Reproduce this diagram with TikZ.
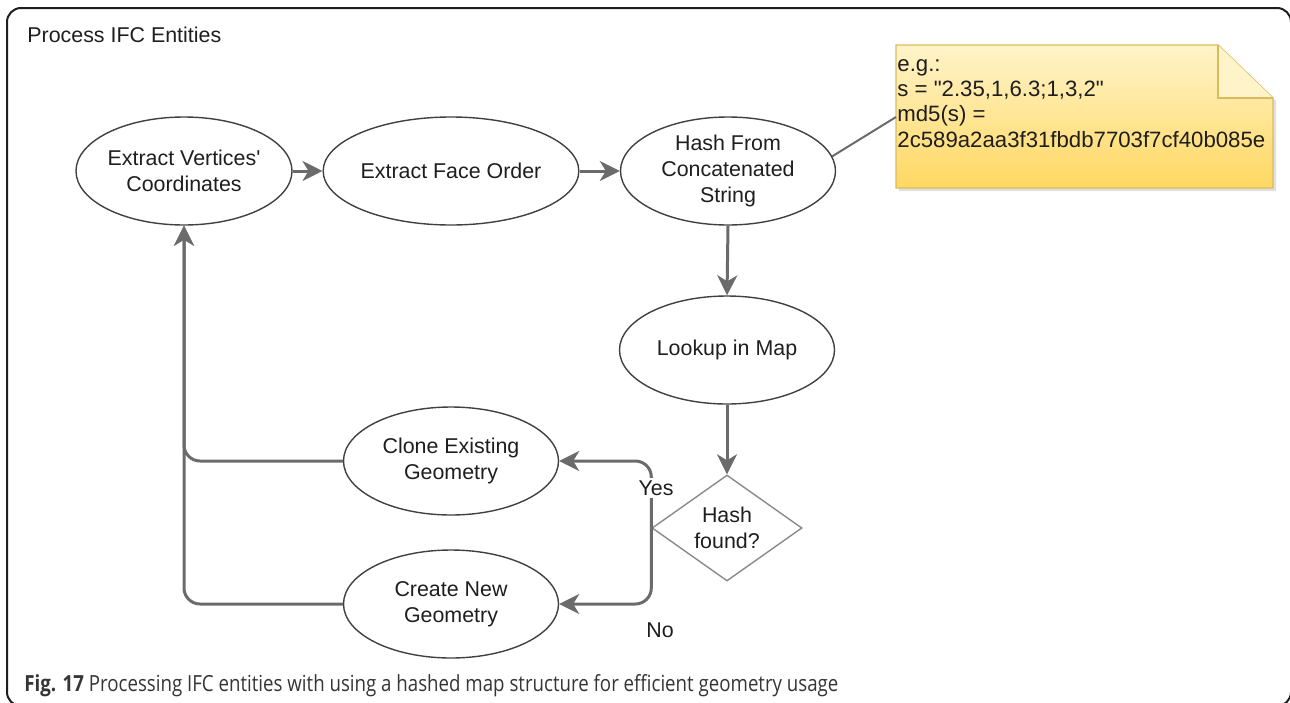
\documentclass[tikz,border=0pt]{standalone}
\usepackage{fontspec}
\setmainfont{Liberation Sans}
\newfontfamily\capfont{Open Sans}
\usetikzlibrary{shapes.geometric,arrows.meta,calc}

\definecolor{flowgray}{HTML}{6B6B6B}
\definecolor{inkdark}{HTML}{1E1E1E}
\definecolor{diagray}{HTML}{8A8A8A}
\definecolor{notetop}{HTML}{FFF3C9}
\definecolor{notebot}{HTML}{FFD862}
\definecolor{noteedge}{HTML}{D9BB5E}

\tikzset{
  txt/.style={font=\fontsize{10.7}{13}\selectfont, text=inkdark, align=center, inner sep=0pt},
  proc/.style={txt, draw=inkdark!85, line width=0.7pt, ellipse,
               minimum width=107.5pt, minimum height=54pt},
  decision/.style={draw=diagray, line width=0.7pt, diamond,
                   minimum width=75pt, minimum height=53pt, inner sep=0pt},
  flow/.style={draw=flowgray, line width=1.5pt,
               -{Stealth[length=10pt,width=10pt,inset=3pt]}},
  frame/.style={draw=inkdark, line width=1pt, rounded corners=7pt},
  lbl/.style={font=\fontsize{10.7}{13}\selectfont, text=inkdark, inner sep=0pt}
}

\begin{document}
\begin{tikzpicture}[x=0.5pt,y=-0.5pt]
\useasboundingbox (0,0) rectangle (1290,702);
\clip (0,0) rectangle (1290,702);

% outer container
\draw[frame] (7,8) rectangle (1291,706);
\node[lbl, anchor=base west] (title) at (27,42) {Process IFC Entities};

% process steps
\node[proc] (v) at (184,171) {Extract Vertices\textquotesingle\\Coordinates};
\node[proc] (f) at (451,171) {Extract Face Order};
\node[proc] (h) at (728,171) {Hash From\\Concatenated\\String};
\node[proc] (l) at (727,350) {Lookup in Map};
\node[decision] (d) at (727,528) {};
\node[txt] (dtext) at (727,528) {Hash\\found?};
\node[proc] (c) at (451,461) {Clone Existing\\Geometry};
\node[proc] (n) at (451,604) {Create New\\Geometry};

% main chain
\draw[flow] (v.east) -- (f.west);
\draw[flow] (f.east) -- (h.west);
\draw[flow] (h.south) -- (l.north);
\draw[flow] (l.south) -- (d.north);

% decision branches
\draw[flow, rounded corners=8pt] (d.west) |- (c.east);
\draw[flow, rounded corners=8pt] (d.west) |- (n.east);
\node[lbl, fill=white, inner sep=1.5pt] (yes) at (656,488) {Yes};
\node[lbl] (no) at (660,630) {No};

% loop back to the first step
\draw[flow, rounded corners=8pt] (c.west) -| (v.south);
\draw[flow, rounded corners=8pt] (n.west) -| (v.south);

% annotation note with folded corner
\fill[black, opacity=0.12] (899,48) -- (1221,48) -- (1276,101) -- (1276,191) -- (899,191) -- cycle;
\shade[top color=notetop, bottom color=notebot]
  (896,45) -- (1218,45) -- (1273,98) -- (1273,188) -- (896,188) -- cycle;
\draw[noteedge, line width=0.7pt]
  (896,45) -- (1218,45) -- (1273,98) -- (1273,188) -- (896,188) -- cycle;
\fill[notetop] (1218,45) -- (1218,98) -- (1273,98) -- cycle;
\draw[noteedge, line width=0.7pt] (1218,45) -- (1218,98) -- (1273,98);
% base anchor of a multi-line node sits on its last line
\node[lbl, anchor=base west, align=left, font=\fontsize{11.1}{12.65}\selectfont]
  (notetxt) at (897,147)
  {e.g.:\\s = \textquotedbl 2.35,1,6.3;1,3,2\textquotedbl\\md5(s) =\\2c589a2aa3f31fbdb7703f7cf40b085e};
\coordinate (notepin) at (896,117);
\draw[flowgray, line width=1pt] (h.8) -- (notepin);

% caption
\node[anchor=base west, inner sep=0pt, text=inkdark!90] (caption) at (24,691)
  {\resizebox{407pt}{8.5pt}{\capfont\textbf{Fig. 17} Processing IFC entities with using a hashed map structure for efficient geometry usage}};
\end{tikzpicture}
\end{document}
